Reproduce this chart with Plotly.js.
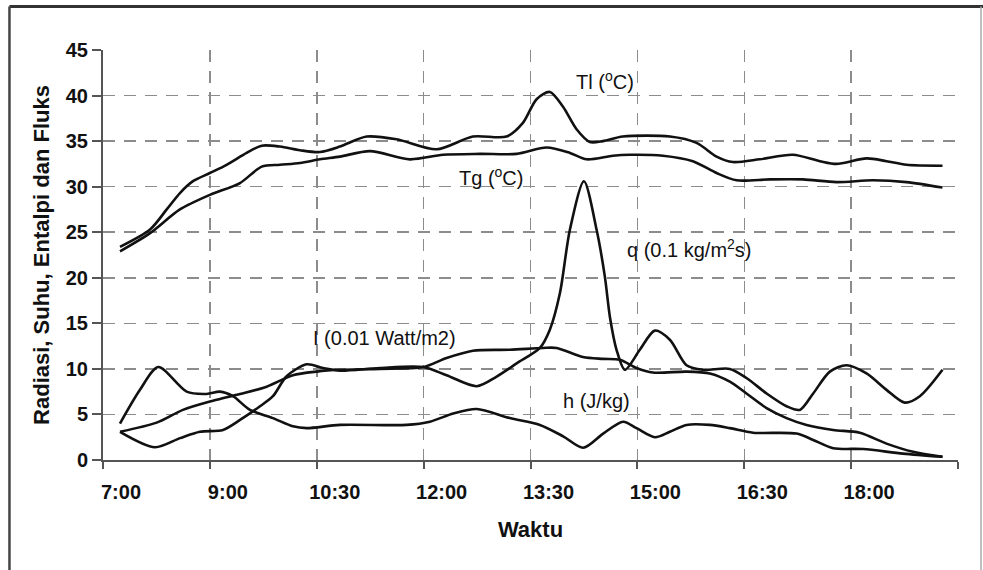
<!DOCTYPE html>
<html>
<head>
<meta charset="utf-8">
<script src="https://cdn.plot.ly/plotly-3.0.1.min.js"></script>
<style>
  html, body { margin: 0; padding: 0; background: #fff; overflow: hidden; }
  #chart { width: 983px; height: 570px; }
</style>
</head>
<body>
<div id="chart"></div>
<script>
// X positions are in tick-interval units (0 = 7:00 gridline, 1 = 9:00, ... 7 = 18:00, 8 = right edge)
const tickLabels = ['7:00', '9:00', '10:30', '12:00', '13:30', '15:00', '16:30', '18:00'];
const tickPos = [0, 1, 2, 3, 4, 5, 6, 7];
const edgePos = [8];

// Tl (oC)
const tlX = [0.159, 0.44, 0.596, 0.72, 0.842, 1.0, 1.157, 1.344, 1.485, 1.656, 1.843, 2.03, 2.217, 2.467, 2.747, 3.122, 3.461, 3.776, 3.929, 4.057, 4.181, 4.303, 4.431, 4.556, 4.677, 4.864, 5.304, 5.554, 5.741, 5.893, 6.146, 6.455, 6.707, 6.863, 7.144, 7.331, 7.518, 7.855];
const tlY = [23.4, 25.3, 27.5, 29.3, 30.6, 31.5, 32.4, 33.7, 34.5, 34.4, 34.0, 33.8, 34.4, 35.5, 35.2, 34.1, 35.5, 35.5, 37.0, 39.6, 40.4, 38.8, 36.3, 34.9, 35.0, 35.5, 35.5, 34.8, 33.3, 32.7, 33.0, 33.5, 32.8, 32.5, 33.1, 32.8, 32.4, 32.3];

// Tg (oC)
const tgX = [0.159, 0.44, 0.72, 1.0, 1.282, 1.485, 1.656, 1.843, 2.03, 2.217, 2.498, 2.872, 3.181, 3.527, 3.87, 4.151, 4.369, 4.525, 4.771, 4.93, 5.239, 5.519, 5.741, 5.928, 6.24, 6.548, 6.863, 7.203, 7.518, 7.855];
const tgY = [22.9, 24.9, 27.5, 29.1, 30.4, 32.2, 32.4, 32.6, 33.0, 33.3, 33.9, 33.0, 33.5, 33.6, 33.6, 34.3, 33.7, 33.0, 33.4, 33.5, 33.4, 32.8, 31.5, 30.7, 30.8, 30.8, 30.5, 30.7, 30.5, 29.9];

// q (0.1 kg/m2s)
const qX = [0.159, 0.486, 0.72, 0.907, 1.123, 1.282, 1.469, 1.59, 1.718, 1.906, 2.058, 2.217, 2.59, 2.996, 3.215, 3.496, 3.683, 3.87, 4.088, 4.181, 4.275, 4.369, 4.5, 4.618, 4.696, 4.743, 4.805, 4.883, 5.023, 5.163, 5.304, 5.46, 5.613, 5.865, 6.021, 6.209, 6.396, 6.52, 6.645, 6.801, 6.957, 7.144, 7.331, 7.502, 7.643, 7.855];
const qY = [3.1, 1.4, 2.4, 3.1, 3.3, 4.4, 5.9, 7.0, 9.2, 10.5, 10.1, 9.8, 10.1, 10.2, 9.3, 8.1, 9.15, 10.6, 12.3, 14.3, 18.3, 25.3, 30.6, 25.3, 20.1, 15.7, 12.1, 9.9, 12.1, 14.2, 13.2, 10.4, 9.9, 10.0, 9.0, 7.3, 5.9, 5.5, 7.3, 9.7, 10.4, 9.5, 7.7, 6.3, 7.0, 9.9];

// I (0.01 Watt/m2)
const iX = [0.159, 0.502, 0.748, 1.029, 1.282, 1.531, 1.777, 1.999, 2.217, 2.59, 2.996, 3.215, 3.461, 3.807, 4.116, 4.244, 4.49, 4.677, 4.836, 4.992, 5.145, 5.46, 5.678, 5.865, 6.021, 6.209, 6.396, 6.583, 6.832, 7.081, 7.331, 7.58, 7.855];
const iY = [3.1, 4.1, 5.5, 6.5, 7.25, 8.05, 9.3, 9.7, 9.9, 10.0, 10.2, 11.2, 12.0, 12.1, 12.3, 12.3, 11.3, 11.1, 11.0, 10.1, 9.6, 9.7, 9.5, 8.6, 7.3, 5.7, 4.6, 3.85, 3.3, 3.0, 1.8, 0.9, 0.35];

// h (J/kg)
const hX = [0.159, 0.346, 0.517, 0.783, 0.97, 1.094, 1.216, 1.375, 1.59, 1.777, 1.906, 2.217, 2.841, 3.059, 3.277, 3.496, 3.807, 4.088, 4.306, 4.493, 4.68, 4.867, 4.992, 5.164, 5.304, 5.46, 5.678, 5.865, 6.083, 6.489, 6.645, 6.832, 7.112, 7.486, 7.855];
const hY = [4.0, 7.7, 10.2, 7.5, 7.25, 7.5, 7.0, 5.5, 4.6, 3.7, 3.5, 3.85, 3.85, 4.2, 5.1, 5.6, 4.6, 3.85, 2.6, 1.35, 2.9, 4.2, 3.5, 2.5, 3.1, 3.85, 3.85, 3.5, 3.0, 2.9, 2.2, 1.3, 1.2, 0.7, 0.35];

const seriesNames = ['Tl (<sup>o</sup>C)', 'Tg (<sup>o</sup>C)', 'q (0.1 kg/m<sup>2</sup>s)', 'I (0.01 Watt/m2)', 'h (J/kg)'];
const labelX = [4.696, 3.63, 5.49, 2.638, 4.621];
const labelY = [41.6, 31.1, 23.2, 13.4, 6.5];

const lineStyle = { color: '#111', width: 2.6, shape: 'spline', smoothing: 0.8 };
const xs = [tlX, tgX, qX, iX, hX];
const ys = [tlY, tgY, qY, iY, hY];

const traces = xs.map((x, k) => ({
  x: x, y: ys[k], type: 'scatter', mode: 'lines',
  name: seriesNames[k], line: lineStyle, hoverinfo: 'skip'
}));

const FONT = 'Liberation Sans, Arial, sans-serif';

const annotations = seriesNames.map((t, k) => ({
  x: labelX[k], y: labelY[k], xref: 'x', yref: 'y', text: t,
  showarrow: false, xanchor: 'center', yanchor: 'middle',
  font: { family: FONT, size: 20, color: '#111' }
}));

const gridDash = '12px,9px';

const layout = {
  width: 983, height: 570,
  margin: { l: 103, r: 25, t: 50, b: 110 },
  paper_bgcolor: '#fff', plot_bgcolor: '#fff',
  showlegend: false,
  font: { family: FONT, color: '#111' },
  xaxis: {
    range: [0, 8], tickmode: 'array', tickvals: tickPos, ticktext: tickLabels,
    showgrid: true, gridcolor: '#8c8c8c', gridwidth: 1.5, griddash: gridDash,
    minor: { tickmode: 'array', tickvals: edgePos, showgrid: true, gridcolor: '#8c8c8c', gridwidth: 1.5, griddash: gridDash,
             ticks: 'outside', ticklen: 7, tickwidth: 2, tickcolor: '#555' },
    zeroline: false, showline: true, linecolor: '#555', linewidth: 2,
    ticks: 'outside', ticklen: 7, tickwidth: 2, tickcolor: '#555',
    ticklabelshift: 18, ticklabelstandoff: 6,
    tickfont: { family: FONT, size: 20, color: '#111', weight: 'bold' },
    title: { text: '<b>Waktu</b>', standoff: 20, font: { family: FONT, size: 22, color: '#111' } }
  },
  yaxis: {
    range: [0, 45], tick0: 0, dtick: 5,
    showgrid: true, gridcolor: '#8c8c8c', gridwidth: 1.5, griddash: gridDash,
    zeroline: false, showline: true, linecolor: '#555', linewidth: 2,
    ticks: 'outside', ticklen: 9, tickwidth: 2, tickcolor: '#555',
    tickfont: { family: FONT, size: 20, color: '#111', weight: 'bold' },
    title: { text: '<b>Radiasi, Suhu, Entalpi dan Fluks</b>', standoff: 10, font: { family: FONT, size: 22, color: '#111' } }
  },
  annotations: annotations,
  shapes: [
    { type: 'line', xref: 'paper', yref: 'paper', x0: -0.1094, x1: 1.03, y0: 1.1062, y1: 1.1062, line: { color: '#333', width: 3 } },
    { type: 'line', xref: 'paper', yref: 'paper', x0: -0.1094, x1: -0.1094, y0: 1.1062, y1: -0.3, line: { color: '#444', width: 2.5 } },
    { type: 'line', xref: 'paper', yref: 'paper', x0: 1.0269, x1: 1.0269, y0: 1.1062, y1: -0.3, line: { color: '#aaa', width: 1.5 } }
  ]
};

Plotly.newPlot('chart', traces, layout, { staticPlot: true, displayModeBar: false });
</script>
</body>
</html>
